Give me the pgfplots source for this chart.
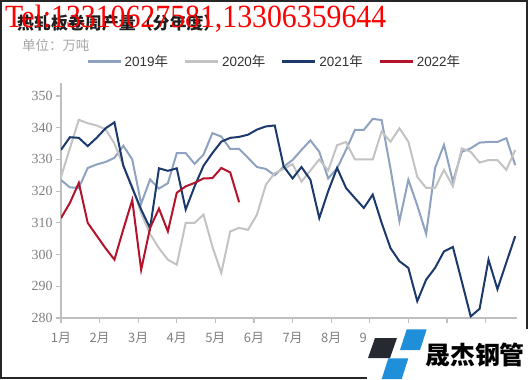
\documentclass[border=0pt]{standalone}
\usepackage{fontspec}
\usepackage{pgfplots}
\pgfplotsset{compat=1.18}
\setmainfont{Liberation Serif}
\newfontfamily\lsans{Liberation Sans}
\newfontfamily\cjk{Noto Sans CJK SC}
\definecolor{c19}{HTML}{8FA2C0}
\definecolor{c20}{HTML}{C3C3C3}
\definecolor{c21}{HTML}{1B3A6B}
\definecolor{c22}{HTML}{B3132B}
\definecolor{axg}{HTML}{BFBFBF}
\definecolor{tg}{HTML}{808080}
\definecolor{logoblue}{HTML}{1E8FD8}
\definecolor{logodark}{HTML}{262A30}
\begin{document}
\begin{tikzpicture}[x=1bp,y=1bp]
\useasboundingbox (0,0) rectangle (528,379);
\fill[white] (0,0) rectangle (528,379);
\draw[black!85, line width=1.3bp] (1,1) rectangle (527,378);
\begin{axis}[
  at={(61bp,61bp)}, anchor=south west,
  scale only axis, width=456bp, height=234.7bp,
  xmin=0, xmax=51.2, ymin=280, ymax=354,
  enlargelimits=false,
  axis lines=left,
  axis line style={-, draw=axg, line width=1.5bp},
  tick style={draw=axg, line width=1.2bp},
  tick align=outside, major tick length=5bp,
  xtick={0,4.333,8.667,13,17.333,21.667,26,30.333,34.667,39,43.333,47.667},
  xticklabels={1月,2月,3月,4月,5月,6月,7月,8月,9月,{},{},{}},
  ytick={280,290,300,310,320,330,340,350},
  /pgf/number format/assume math mode=true,
  x tick label style={font=\cjk\fontsize{13}{13}\selectfont, text=tg, yshift=-6bp},
  y tick label style={font=\fontsize{14}{14}\selectfont, text=tg},
  legend style={at={(0.468,1.091)}, anchor=center, draw=none, fill=none,
    legend columns=4, font=\lsans\fontsize{13.5}{14}\selectfont, text=black!80,
    /tikz/every even column/.append style={column sep=13bp},
    nodes={inner sep=2.5bp}},
  legend image code/.code={\draw[#1, line width=3bp] (0bp,0bp) -- (33bp,0bp);},
]
\addplot[c19, line width=2bp] coordinates {
(0,323.5) (1,321.2) (2,321) (3,327.3) (4,328.4) (5,329.2) (6,330.5) (7,334.3) (8,330) (9,316)
(10,323.7) (11,320.8) (12,322.5) (13,332) (14,332) (15,328.6) (16,331.5) (17,338.3) (18,337.2) (19,333.3)
(20,333.3) (21,330.5) (22,327.6) (23,327) (24,325) (25,327.7) (26,329.8) (27,333) (28,336) (29,332.4)
(30,324) (31,327.2) (32,333) (33,339.3) (34,339.3) (35,342.8) (36,342.4) (37,327) (38,310.5) (39,323.6)
(40,315.5) (41,306.5) (42,327.3) (43,334.6) (44,323) (45,332.4) (46,333.5) (47,335.3) (48,335.5) (49,335.5)
(50,336.7) (51,328.2)};
\addlegendentry{2019{\cjk 年}}
\addplot[c20, line width=2bp] coordinates {
(0,324.5) (1,333.5) (2,342.5) (3,341.4) (4,340.7) (5,339.5) (6,335) (7,328) (8,321.5) (9,313)
(10,306.5) (11,302) (12,298.4) (13,296.8) (14,310) (15,310) (16,312.6) (17,302.5) (18,294.2) (19,307.3)
(20,308.4) (21,307.8) (22,312.6) (23,322) (24,325.7) (25,327) (26,328.5) (27,323) (28,326.5) (29,330)
(30,326.5) (31,334.5) (32,335.5) (33,330) (34,330) (35,330) (36,338.8) (37,335.6) (38,339.8) (39,335.6)
(40,324.5) (41,321) (42,321) (43,326.7) (44,321.5) (45,333.5) (46,332.4) (47,329) (48,329.8) (49,329.8)
(50,326.7) (51,333)};
\addlegendentry{2020{\cjk 年}}
\addplot[c21, line width=2bp] coordinates {
(0,333) (1,337) (2,336.8) (3,334.2) (4,336.8) (5,339.8) (6,341.7) (7,328) (8,321) (9,314.2)
(10,308.3) (11,327.2) (12,326.4) (13,327.2) (14,314.2) (15,321.5) (16,328) (17,332) (18,335.6) (19,336.8)
(20,337.1) (21,337.8) (22,339.4) (23,340.4) (24,340.7) (25,327.8) (26,324) (27,327.6) (28,323.6) (29,311.5)
(30,320) (31,327.3) (32,321) (33,317.8) (34,314.7) (35,318.9) (36,310) (37,302) (38,297.9) (39,295.8)
(40,285.3) (41,292.1) (42,295.8) (43,301) (44,302.4) (45,291.5) (46,280.5) (47,282.9) (48,298.4) (49,289.1)
(50,297.5) (51,305.8)};
\addlegendentry{2021{\cjk 年}}
\addplot[c22, line width=2bp] coordinates {
(0,311.5) (1,316.3) (2,322.6) (3,310) (4,306) (5,302) (6,298.4) (7,308) (8,317.2) (9,295.2)
(10,308.4) (11,314.5) (12,307.3) (13,319.5) (14,321.5) (15,322.6) (16,324) (17,324.1) (18,327.3) (19,325.9)
(20,316.5)};
\addlegendentry{2022{\cjk 年}}
\end{axis}
% logo watermark
\fill[white] (367,0) rectangle (528,50);
\fill[logodark] (368,21) -- (375,41) -- (397,41) -- (390,21) -- cycle;
\fill[logoblue] (400,29) -- (406.7,49.7) -- (426.7,49.7) -- (420,29) -- cycle;
\fill[logoblue] (381.7,0) -- (388.3,20.7) -- (408.3,20.7) -- (401.7,0) -- cycle;
\node[font=\cjk\bfseries\fontsize{25}{25}\selectfont, text=black, inner sep=0] at (475,24) {晟杰钢管};
% titles
\node[anchor=west, inner sep=0, font=\cjk\bfseries\fontsize{17}{17}\selectfont, text=black!88] at (17,355.5) {热轧板卷周产量（分年度）};
\node[anchor=west, inner sep=0, font=\cjk\fontsize{13.5}{13.5}\selectfont, text=black!35] at (22,334) {单位：万吨};
\node[anchor=base west, inner sep=0, xscale=0.92, font=\fontsize{32.5}{32.5}\selectfont, text=red] at (5,352) {Tel:13310627581,13306359644};
\end{tikzpicture}
\end{document}
